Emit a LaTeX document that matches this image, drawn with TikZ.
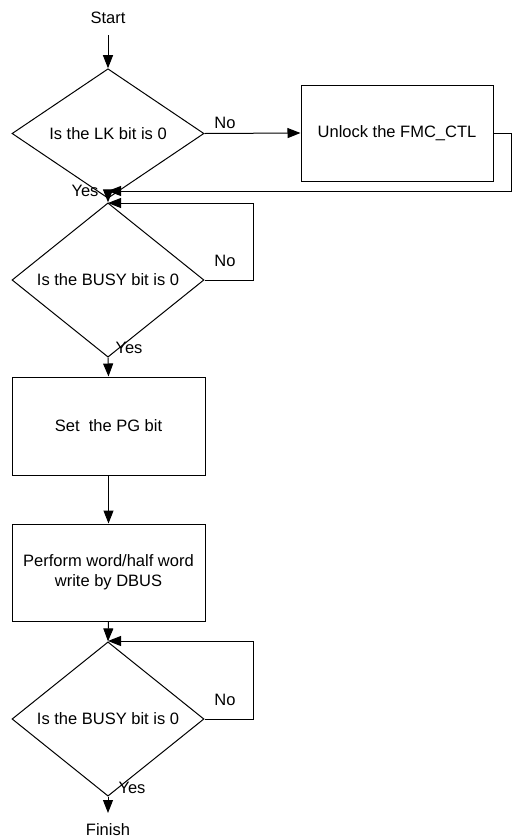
\documentclass[tikz,border=0pt]{standalone}
\usepackage{fontspec}
\setmainfont{Liberation Sans}
\usetikzlibrary{arrows.meta,shapes.geometric}
\begin{document}
\begin{tikzpicture}[x=1pt,y=-1pt,
  line/.style={line width=1pt},
  arr/.style={line,-{Triangle[length=13pt,width=10pt]}},
  lbl/.style={font=\fontsize{16.5}{20}\selectfont,inner sep=0pt},
  dec/.style={diamond,draw,line width=1pt,minimum width=192pt,minimum height=97pt,inner sep=0pt,font=\fontsize{16.5}{20}\selectfont},
  proc/.style={rectangle,draw,line width=1pt,minimum width=193pt,minimum height=97pt,inner sep=0pt,align=center,font=\fontsize{16.5}{20}\selectfont}
]
\useasboundingbox (0,0) rectangle (512,839);
\node[lbl] (start) at (108,18) {Start};
\node[dec] (d1) at (108,133.5) {Is the LK bit is 0};
\node[proc,minimum width=192pt,minimum height=96pt] (b1) at (397,133) {Unlock the FMC\_CTL};
\node[dec] (d2) at (108,280) {Is the BUSY bit is 0};
\node[proc,minimum height=98pt] (b2) at (108.5,426) {Set\ \ the PG bit};
\node[proc] (b3) at (108.5,572.5) {Perform word/half word\\write by DBUS};
\node[dec] (d3) at (108,719) {Is the BUSY bit is 0};
\node[lbl] (finish) at (108,830) {Finish};

\coordinate (s0) at (108,35);
\coordinate (j1) at (108,191);
\coordinate (j2) at (108,203);
\coordinate (j3) at (108,641);
\coordinate (r1) at (511,133);
\coordinate (r2) at (511,191);
\coordinate (l2a) at (253,280);
\coordinate (l2b) at (253,203);
\coordinate (l3a) at (253,719);
\coordinate (l3b) at (253,641);
\coordinate (f0) at (108,813);

\draw[arr] (s0) -- (d1.north);
\draw[arr] (d1.east) -- (b1.west);
\node[lbl] (no1) at (225,123) {No};
\draw[arr] (b1.east) -- (r1) -- (r2) -- (j1);
\draw[arr] (d1.south) -- (d2.north);
\node[lbl] (yes1) at (85,191) {Yes};
\draw[arr] (d2.east) -- (l2a) -- (l2b) -- (j2);
\node[lbl] (no2) at (225,261) {No};
\draw[arr] (d2.south) -- (b2.north);
\node[lbl] (yes2) at (129,348) {Yes};
\draw[arr] (b2.south) -- (b3.north);
\draw[arr] (b3.south) -- (d3.north);
\draw[arr] (d3.east) -- (l3a) -- (l3b) -- (j3);
\node[lbl] (no3) at (225,700) {No};
\draw[arr] (d3.south) -- (f0);
\node[lbl] (yes3) at (132,788) {Yes};
\end{tikzpicture}
\end{document}
